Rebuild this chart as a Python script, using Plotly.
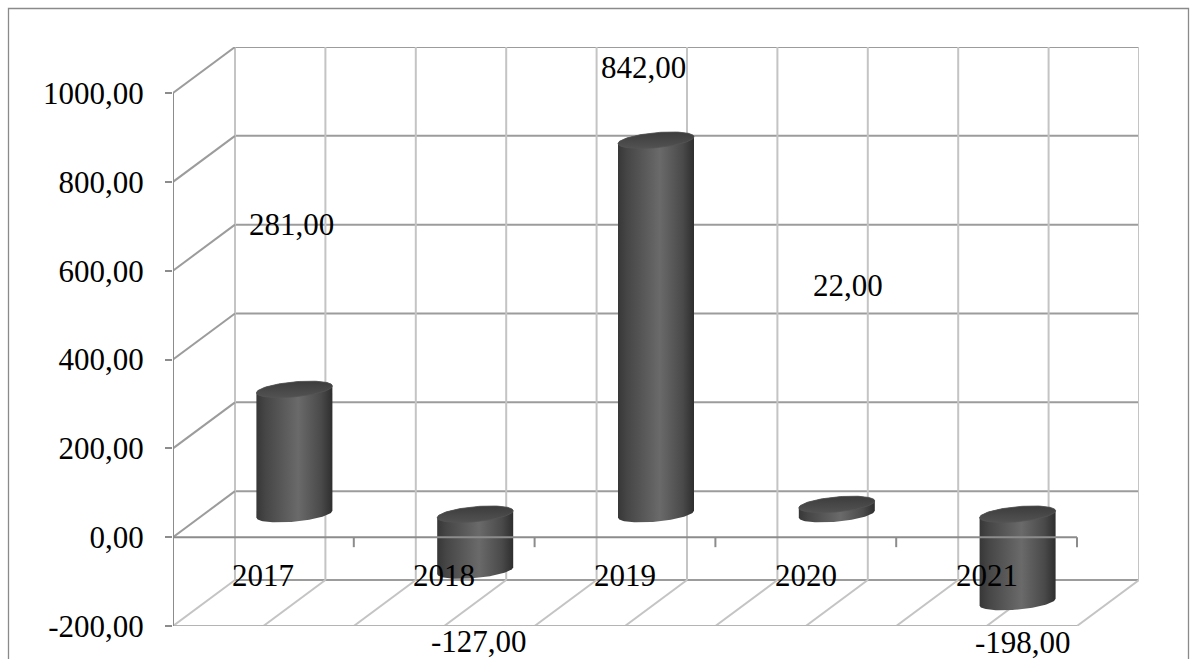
import numpy as np
import plotly.graph_objects as go

# ---------------- data ----------------
years = ["2017", "2018", "2019", "2020", "2021"]
values = [281, -127, 842, 22, -198]
y_ticks = [-200, 0, 200, 400, 600, 800, 1000]

# ---------------- style / geometry (pixels) ----------------
W, H = 1195, 659
FX0, FX1 = 173, 1077          # front plane left / right
FY_BOT, FY_TOP = 626, 93      # front plane y of -200 / 1000
BX, BY = 62, 46               # depth skew of the back wall
YMIN, YMAX = y_ticks[0], y_ticks[-1]
N = len(years)
PXC = (FX1 - FX0) / N                 # px per category
PXV = (FY_BOT - FY_TOP) / (YMAX - YMIN)  # px per value unit
DXd = BX / PXC
DYd = BY / PXV
XR = [-0.5, N - 0.5 + DXd]
YR = [YMIN, YMAX + DYd]

FONT = "Liberation Serif"
FS = 31

# label offsets (style)
lab_xshift = [-3, 4, -13, 11, 5]
lab_yshift = [165, -71, 73, 219, -40]
cat_yshift = -38

A_PX, B_PX, SHEAR = 38, 7.5, 0.09


def segs(pairs):
    xs, ys = [], []
    for (x0, y0), (x1, y1) in pairs:
        xs += [x0, x1, None]
        ys += [y0, y1, None]
    return xs, ys


def line_trace(pairs, color, width):
    xs, ys = segs(pairs)
    return go.Scatter(x=xs, y=ys, mode="lines", line=dict(color=color, width=width),
                      hoverinfo="skip", showlegend=False)


def ell(cx, cy, t):
    xp = A_PX * np.cos(t)
    yp = B_PX * np.sin(t) + SHEAR * A_PX * np.cos(t)
    return cx + xp / PXC, cy + yp / PXV


fig = go.Figure()

half = [-0.5 + 0.5 * k for k in range(2 * N + 1)]

# back wall horizontal lines
fig.add_trace(line_trace([((-0.5 + DXd, v + DYd), (N - 0.5 + DXd, v + DYd)) for v in y_ticks],
                         "#9c9c9c", 2))
# back wall vertical lines
fig.add_trace(line_trace([((x + DXd, YMIN + DYd), (x + DXd, YMAX + DYd)) for x in half],
                         "#c4c4c4", 2))
# left wall diagonals
fig.add_trace(line_trace([((-0.5, v), (-0.5 + DXd, v + DYd)) for v in y_ticks[1:]],
                         "#9c9c9c", 2))
# floor diagonals
fig.add_trace(line_trace([((x, YMIN), (x + DXd, YMIN + DYd)) for x in half],
                         "#c4c4c4", 2))
# floor front edge
fig.add_trace(line_trace([((-0.5, YMIN), (N - 0.5, YMIN))], "#b4b4b4", 2))

# cylinders
t_low = np.linspace(np.pi, 2 * np.pi, 60)
t_up = np.linspace(0, np.pi, 60)
t_all = np.linspace(0, 2 * np.pi, 120)
body_scale = [[0, "#373737"], [0.12, "#464646"], [0.55, "#6a6a6a"],
              [0.85, "#4a4a4a"], [1, "#2e2e2e"]]
for i, v in enumerate(values):
    cx = i + DXd / 2
    y0 = min(0, v) + DYd / 2
    y1 = max(0, v) + DYd / 2
    bx1, by1 = ell(cx, y0, t_low)
    bx2, by2 = ell(cx, y1, t_up)
    fig.add_trace(go.Scatter(
        x=np.concatenate([bx1, bx2]), y=np.concatenate([by1, by2]),
        mode="lines", fill="toself", line=dict(width=0, color="rgba(0,0,0,0)"),
        fillgradient=dict(type="horizontal", colorscale=body_scale),
        hoverinfo="skip", showlegend=False))
    tx, ty = ell(cx, y1, t_all)
    fig.add_trace(go.Scatter(
        x=tx, y=ty, mode="lines", fill="toself",
        line=dict(width=0.8, color="#545454"),
        fillgradient=dict(type="vertical", colorscale=[[0, "#525252"], [1, "#3c3c3c"]]),
        hoverinfo="skip", showlegend=False))

# front vertical axis line
fig.add_trace(line_trace([((-0.5, YMIN), (-0.5, YMAX))], "#8c8c8c", 2))
# zero (category) axis line with tick marks
tick_len = 10 / PXV
zpairs = [((-0.5, 0), (N - 0.5, 0))] + [((x, 0), (x, -tick_len)) for x in half[2::2]]
fig.add_trace(line_trace(zpairs, "#8c8c8c", 2))

fmt = lambda v: f"{v:.2f}".replace(".", ",")

annotations = []
for i, y in enumerate(years):
    annotations.append(dict(x=i, y=0, xref="x", yref="y", text=y, showarrow=False,
                            xanchor="center", yanchor="middle", yshift=cat_yshift,
                            font=dict(family=FONT, size=FS, color="black")))
for i, v in enumerate(values):
    annotations.append(dict(x=i + DXd / 2, y=v + DYd / 2, xref="x", yref="y", text=fmt(v),
                            showarrow=False, xanchor="center", yanchor="middle",
                            xshift=lab_xshift[i], yshift=lab_yshift[i],
                            font=dict(family=FONT, size=FS, color="black")))

fig.update_layout(
    width=W, height=H, autosize=False,
    margin=dict(l=0, r=0, t=0, b=0, pad=0, autoexpand=False),
    paper_bgcolor="white", plot_bgcolor="rgba(0,0,0,0)",
    xaxis=dict(domain=[FX0 / W, (FX1 + BX) / W], range=XR, visible=False,
               fixedrange=True, automargin=False),
    yaxis=dict(domain=[1 - FY_BOT / H, 1 - (FY_TOP - BY) / H], range=YR,
               tickvals=y_ticks, ticktext=[fmt(v) for v in y_ticks],
               ticks="outside", ticklen=7, tickwidth=2, tickcolor="#8c8c8c",
               showgrid=False, zeroline=False, showline=False, ticklabelstandoff=15,
               tickfont=dict(family=FONT, size=FS, color="black"), fixedrange=True,
               automargin=False),
    annotations=annotations,
    shapes=[dict(type="rect", xref="paper", yref="paper", x0=8.5 / W, x1=1188.5 / W,
                 y0=-0.05, y1=1 - 8.5 / H, line=dict(color="#8a8a8a", width=1.3))],
    showlegend=False,
)

fig.write_html("out.html", config={"displayModeBar": False, "responsive": False},
               post_script="document.body.style.margin='0';document.body.style.overflow='hidden';")
